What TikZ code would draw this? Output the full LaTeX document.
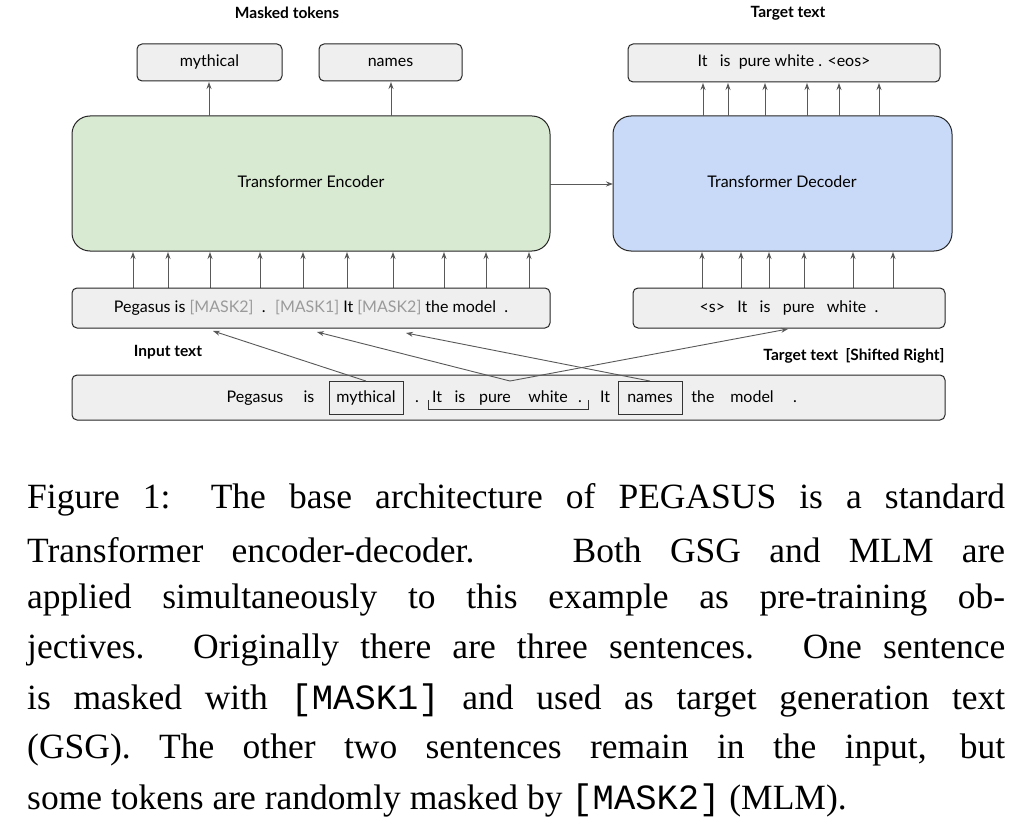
\documentclass[tikz,border=0pt]{standalone}
\usepackage{fontspec}
\setmainfont{Liberation Serif}
\setmonofont{Liberation Mono}
\newfontfamily\dfont{Lato}
\usetikzlibrary{arrows.meta}
\definecolor{encg}{HTML}{D9EAD3}
\definecolor{decb}{HTML}{C9DAF8}
\definecolor{boxg}{HTML}{EFEFEF}
\definecolor{mk}{HTML}{9A9A9A}
\begin{document}
\begin{tikzpicture}[x=1pt,y=-1pt,
  box/.style={draw=black!85,fill=boxg,rounded corners=5pt,line width=1pt},
  lbl/.style={font=\dfont\fontsize{16}{19}\selectfont,text height=11.5pt,text depth=3.5pt},
  blbl/.style={font=\dfont\bfseries\fontsize{15.5}{18}\selectfont},
  arr/.style={draw=black!65,line width=0.9pt,-{Stealth[length=7pt,width=5pt]}},
  captxt/.style={anchor=west,inner sep=0pt,font=\fontsize{35.5}{40}\selectfont}]
\useasboundingbox (0,0) rectangle (1024,826);
\fill[white] (0,0) rectangle (1024,826);
% labels
\node[blbl] (lmt) at (287,13) {Masked tokens};
\node[blbl] (ltt) at (788,13) {Target text};
% top boxes
\draw[box] (137,44) rectangle (282,81); \node[lbl] (myth) at (209.5,62.5) {mythical};
\draw[box] (319,44) rectangle (462,81); \node[lbl] (nam) at (390.5,62.5) {names};
\draw[box] (628,44) rectangle (940,82); \node[lbl] (tgt) at (784,63) {It \ \ is \ pure white . <eos>};
% encoder/decoder
\draw[draw=black!85,fill=encg,rounded corners=18pt,line width=1pt] (72,116) rectangle (550,251);
\node[lbl] (enc) at (311,184) {Transformer Encoder};
\draw[draw=black!85,fill=decb,rounded corners=18pt,line width=1pt] (613,116) rectangle (952,251);
\node[lbl] (dec) at (782,184) {Transformer Decoder};
\coordinate (encR) at (550,184); \coordinate (decL) at (613,184);
\draw[arr] (encR) -- (decL);
\foreach \x in {209,391} \draw[arr] (\x,116) -- (\x,82);
\foreach \x in {703,728,765,807,839,879} \draw[arr] (\x,116) -- (\x,83);
\foreach \x in {133,168,210,260,303,347,393,444,486,529} \draw[arr] (\x,288) -- (\x,252);
\foreach \x in {702,741,769,804,853,893} \draw[arr] (\x,288) -- (\x,252);
% input boxes
\draw[box] (72,288) rectangle (550,328);
\node[lbl] (inp) at (311,308) {Pegasus is {\color{mk}[MASK2]} \ . \ {\color{mk}[MASK1]} It {\color{mk}[MASK2]} the model \ .};
\draw[box] (633,288) rectangle (945,328);
\node[lbl] (dinp) at (789,308) {<s> \ \ It \ \ is \ \ pure \ \ white \ .};
\node[blbl] (lin) at (168,352) {Input text};
\node[blbl,anchor=east] (lts) at (948,356) {Target text \ [Shifted Right]};
% bottom box
\draw[box] (72,375) rectangle (945,420);
\foreach \t/\x in {Pegasus/255,is/309,./417,It/437,is/460,pure/495,white/548,./580,It/605,the/703,model/752,./795}
  \node[lbl] at (\x,398) {\t};
\node[lbl,draw=black!80,line width=0.9pt,minimum width=74pt,minimum height=33pt,inner sep=1pt] (bm) at (366,398) {mythical};
\node[lbl,draw=black!80,line width=0.9pt,minimum width=64pt,minimum height=33pt,inner sep=1pt] (bn) at (650,398) {names};
\draw[black!80,line width=0.9pt] (428,400) -- (428,409) -- (588,409) -- (588,400);
\coordinate (sen) at (510,381);
\draw[arr] (bm.north) -- (213,331);
\draw[arr] (sen) -- (317,332);
\draw[arr] (bn.north) -- (406,333);
\draw[arr] (sen) -- (788,329);
% caption
\node[captxt] (c1) at (27,500) {\makebox[978pt][s]{Figure 1: The base architecture of PEGASUS is a standard}};
\node[captxt] (c2) at (27,550) {\makebox[978pt][s]{Transformer encoder-decoder. \ Both GSG and MLM are}};
\node[captxt] (c3) at (27,600) {\makebox[978pt][s]{applied simultaneously to this example as pre-training ob-}};
\node[captxt] (c4) at (27,650) {\makebox[978pt][s]{jectives. Originally there are three sentences. One sentence}};
\node[captxt] (c5) at (27,700) {\makebox[978pt][s]{is masked with \texttt{[MASK1]} and used as target generation text}};
\node[captxt] (c6) at (27,750) {\makebox[978pt][s]{(GSG). The other two sentences remain in the input, but}};
\node[captxt] (c7) at (27,800) {some tokens are randomly masked by \texttt{[MASK2]} (MLM).};
\end{tikzpicture}
\end{document}
